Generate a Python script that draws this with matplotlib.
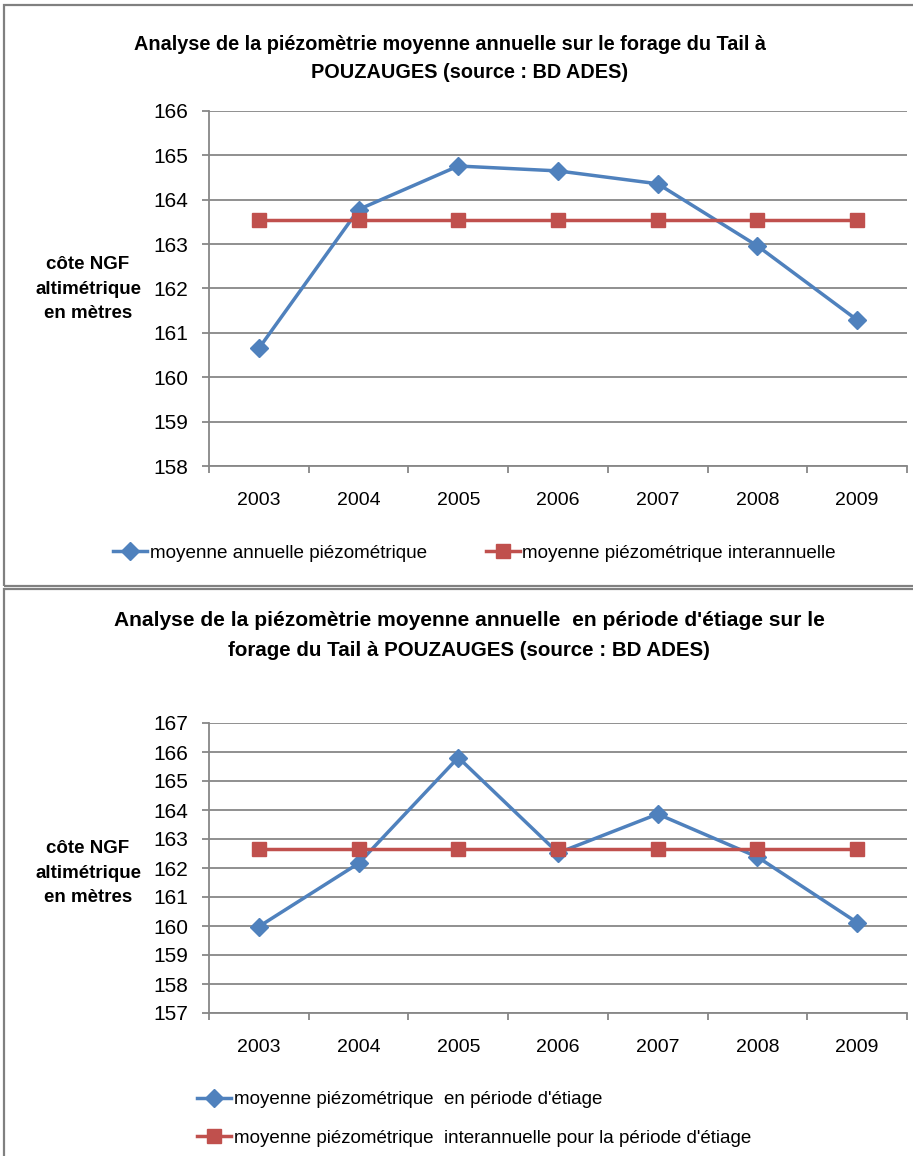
import matplotlib.pyplot as plt
from matplotlib.patches import Rectangle
from matplotlib.ticker import FixedLocator, NullFormatter

annees = ["2003", "2004", "2005", "2006", "2007", "2008", "2009"]

# piézométrie moyenne annuelle (m NGF)
moy_annuelle = [160.65, 163.78, 164.76, 164.65, 164.36, 162.96, 161.29]
moy_interannuelle = [163.54] * 7

# période d'étiage
moy_etiage = [159.98, 162.16, 165.81, 162.52, 163.86, 162.38, 160.12]
moy_inter_etiage = [162.67] * 7

BLEU = "#4F81BD"
ROUGE = "#C0504D"
GRIS = "#878787"

plt.rcParams["font.family"] = ["Liberation Sans", "DejaVu Sans"]

W, H = 913, 1156
fig = plt.figure(figsize=(W / 100, H / 100), dpi=100)


def px(x, y):
    return x / W, 1 - y / H


def axe(x0, y0, x1, y1, ymin, ymax):
    ax = fig.add_axes([x0 / W, 1 - y1 / H, (x1 - x0) / W, (y1 - y0) / H])
    ax.set_xlim(-0.5, 6.5)
    ax.set_ylim(ymin, ymax)
    ax.set_yticks(range(ymin, ymax + 1))
    ax.yaxis.grid(True, color=GRIS, lw=1.3)
    ax.set_axisbelow(True)
    for s in ["top", "right"]:
        ax.spines[s].set_visible(False)
    for s in ["left", "bottom"]:
        ax.spines[s].set_color(GRIS)
        ax.spines[s].set_linewidth(1.3)
    ax.set_xticks(range(7))
    ax.set_xticklabels(annees)
    ax.xaxis.set_minor_locator(FixedLocator([i - 0.5 for i in range(8)]))
    ax.xaxis.set_minor_formatter(NullFormatter())
    ax.tick_params(axis="x", which="major", length=0, pad=19, labelsize=14)
    ax.tick_params(axis="x", which="minor", length=5, color=GRIS, width=1.3)
    ax.tick_params(axis="y", length=5, color=GRIS, width=1.3, pad=10, labelsize=15)
    return ax


def cadre(y0, y1):
    fig.patches.append(Rectangle(px(4, y1), (W + 10) / W, (y1 - y0) / H,
                                 transform=fig.transFigure, fill=False,
                                 ec="#808080", lw=1.6))


cadre(5, 586)
cadre(589, H + 20)

# --- graphique 1 : moyenne annuelle ---
ax1 = axe(209, 111, 907, 466, 158, 166)
l1, = ax1.plot(range(7), moy_annuelle, color=BLEU, lw=2.5, marker="D", ms=9,
               label="moyenne annuelle piézométrique")
l2, = ax1.plot(range(7), moy_interannuelle, color=ROUGE, lw=2.5, marker="s", ms=10,
               label="moyenne piézométrique interannuelle")

fig.text(*px(450, 44), "Analyse de la piézomètrie moyenne annuelle sur le forage du Tail à",
         ha="center", va="center", fontsize=14.3, fontweight="bold")
fig.text(*px(470, 73), "POUZAUGES (source : BD ADES)",
         ha="center", va="center", fontsize=14.3, fontweight="bold")
fig.text(*px(88, 289), "côte NGF\naltimétrique\nen mètres", ha="center", va="center",
         fontsize=13.5, fontweight="bold", linespacing=1.55)

fig.legend(handles=[l1, l2], loc="center left", bbox_to_anchor=px(96, 553), ncol=2,
           frameon=False, fontsize=13.6, handlelength=1.8, handletextpad=0.15,
           columnspacing=3.1, markerscale=1.0)

# --- graphique 2 : période d'étiage ---
ax2 = axe(209, 723, 907, 1013, 157, 167)
l3, = ax2.plot(range(7), moy_etiage, color=BLEU, lw=2.5, marker="D", ms=9,
               label="moyenne piézométrique  en période d'étiage")
l4, = ax2.plot(range(7), moy_inter_etiage, color=ROUGE, lw=2.5, marker="s", ms=10,
               label="moyenne piézométrique  interannuelle pour la période d'étiage")

fig.text(*px(469, 620), "Analyse de la piézomètrie moyenne annuelle  en période d'étiage sur le",
         ha="center", va="center", fontsize=15.1, fontweight="bold")
fig.text(*px(469, 650), "forage du Tail à POUZAUGES (source : BD ADES)",
         ha="center", va="center", fontsize=14.8, fontweight="bold")
fig.text(*px(88, 873), "côte NGF\naltimétrique\nen mètres", ha="center", va="center",
         fontsize=13.5, fontweight="bold", linespacing=1.55)

fig.legend(handles=[l3, l4], loc="center left", bbox_to_anchor=px(180, 1119), ncol=1,
           frameon=False, fontsize=13.5, handlelength=1.8, handletextpad=0.2,
           labelspacing=1.15, markerscale=1.0)

fig.savefig("out.png", dpi=100)
